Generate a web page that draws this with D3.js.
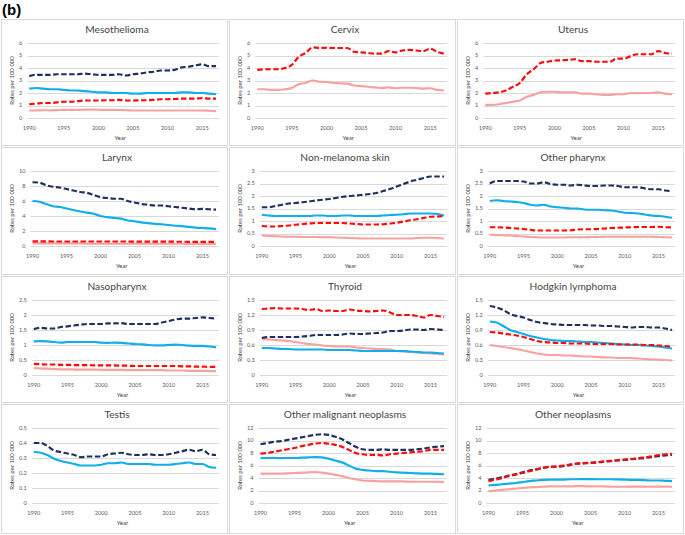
<!DOCTYPE html>
<html>
<head>
<meta charset="utf-8">
<script src="https://cdn.jsdelivr.net/npm/d3@7/dist/d3.min.js"></script>
<style>
  body { margin: 0; background: #fff; }
  text { font-family: Lato, "Open Sans", sans-serif; }
</style>
</head>
<body>
<svg id="chart" width="685" height="535"></svg>
<script>
// x categories
const years = [1990, 1991, 1992, 1993, 1994, 1995, 1996, 1997, 1998, 1999,
  2000, 2001, 2002, 2003, 2004, 2005, 2006, 2007, 2008, 2009,
  2010, 2011, 2012, 2013, 2014, 2015, 2016, 2017];
const yearTicks = [1990, 1995, 2000, 2005, 2010, 2015];

// Mesothelioma
const mesoNavy = [3.35, 3.45, 3.45, 3.45, 3.5, 3.5, 3.5, 3.5, 3.55, 3.5, 3.45, 3.45, 3.45, 3.5, 3.4, 3.5, 3.55, 3.65, 3.7, 3.8, 3.8, 3.85, 4.05, 4.1, 4.2, 4.3, 4.15, 4.15];
const mesoRed = [1.1, 1.15, 1.2, 1.2, 1.25, 1.3, 1.3, 1.35, 1.4, 1.4, 1.4, 1.42, 1.42, 1.45, 1.4, 1.4, 1.42, 1.42, 1.45, 1.5, 1.5, 1.52, 1.55, 1.55, 1.55, 1.6, 1.55, 1.55];
const mesoBlue = [2.35, 2.4, 2.35, 2.3, 2.3, 2.25, 2.2, 2.2, 2.15, 2.1, 2.05, 2.05, 2.0, 2.0, 2.0, 1.95, 1.95, 2.0, 2.0, 2.0, 2.0, 2.0, 2.05, 2.05, 2.0, 2.0, 1.95, 1.9];
const mesoPink = [0.6, 0.6, 0.62, 0.62, 0.63, 0.65, 0.65, 0.65, 0.67, 0.67, 0.66, 0.65, 0.65, 0.64, 0.62, 0.6, 0.6, 0.6, 0.6, 0.6, 0.6, 0.6, 0.6, 0.6, 0.6, 0.6, 0.58, 0.55];
const mesoTicks = [0, 1, 2, 3, 4, 5, 6];

// Cervix
const cervixRed = [3.85, 3.9, 3.9, 3.9, 4.0, 4.25, 4.9, 5.2, 5.65, 5.6, 5.62, 5.6, 5.6, 5.6, 5.3, 5.25, 5.2, 5.15, 5.15, 5.35, 5.25, 5.4, 5.45, 5.4, 5.35, 5.55, 5.3, 5.15];
const cervixPink = [2.3, 2.3, 2.25, 2.25, 2.3, 2.4, 2.7, 2.8, 3.0, 2.9, 2.88, 2.8, 2.78, 2.75, 2.6, 2.55, 2.5, 2.45, 2.4, 2.45, 2.38, 2.42, 2.42, 2.4, 2.35, 2.38, 2.25, 2.2];
const cervixTicks = [0, 1, 2, 3, 4, 5, 6];

// Uterus
const uterusRed = [1.95, 2.0, 2.05, 2.2, 2.5, 2.8, 3.5, 3.9, 4.4, 4.5, 4.6, 4.62, 4.65, 4.7, 4.55, 4.55, 4.5, 4.5, 4.5, 4.75, 4.75, 4.95, 5.1, 5.1, 5.1, 5.35, 5.2, 5.15];
const uterusPink = [1.05, 1.05, 1.1, 1.2, 1.3, 1.4, 1.7, 1.85, 2.05, 2.1, 2.1, 2.05, 2.05, 2.05, 1.95, 1.95, 1.9, 1.85, 1.85, 1.9, 1.9, 2.0, 2.0, 2.0, 2.0, 2.05, 1.95, 1.9];
const uterusTicks = [0, 1, 2, 3, 4, 5, 6];

// Larynx
const larynxNavy = [8.5, 8.45, 8.1, 7.9, 7.8, 7.6, 7.4, 7.2, 7.1, 6.8, 6.5, 6.4, 6.3, 6.3, 6.0, 5.8, 5.6, 5.5, 5.4, 5.4, 5.3, 5.2, 5.1, 5.0, 4.9, 4.95, 4.9, 4.85];
const larynxRed = [0.62, 0.62, 0.62, 0.6, 0.6, 0.6, 0.6, 0.6, 0.6, 0.6, 0.6, 0.6, 0.6, 0.6, 0.6, 0.58, 0.58, 0.58, 0.58, 0.58, 0.58, 0.57, 0.57, 0.56, 0.56, 0.55, 0.55, 0.55];
const larynxBlue = [6.0, 5.9, 5.6, 5.3, 5.2, 5.0, 4.8, 4.6, 4.45, 4.3, 4.0, 3.85, 3.75, 3.65, 3.4, 3.3, 3.15, 3.05, 2.95, 2.9, 2.8, 2.7, 2.65, 2.55, 2.45, 2.4, 2.35, 2.25];
const larynxPink = [0.36, 0.36, 0.35, 0.35, 0.35, 0.34, 0.34, 0.34, 0.33, 0.33, 0.33, 0.33, 0.32, 0.32, 0.32, 0.31, 0.31, 0.31, 0.3, 0.3, 0.3, 0.3, 0.3, 0.29, 0.29, 0.29, 0.28, 0.28];
const larynxTicks = [0, 2, 4, 6, 8, 10];

// Non-melanoma skin
const skinNavy = [1.55, 1.55, 1.6, 1.65, 1.7, 1.72, 1.75, 1.78, 1.82, 1.85, 1.88, 1.92, 1.97, 2.0, 2.02, 2.05, 2.08, 2.12, 2.2, 2.28, 2.38, 2.48, 2.58, 2.65, 2.72, 2.78, 2.78, 2.78];
const skinRed = [0.8, 0.78, 0.78, 0.8, 0.82, 0.85, 0.88, 0.9, 0.92, 0.92, 0.92, 0.92, 0.92, 0.9, 0.88, 0.86, 0.86, 0.86, 0.87, 0.9, 0.93, 0.98, 1.03, 1.07, 1.12, 1.17, 1.18, 1.2];
const skinBlue = [1.25, 1.22, 1.2, 1.2, 1.2, 1.2, 1.2, 1.2, 1.22, 1.22, 1.2, 1.2, 1.22, 1.22, 1.2, 1.2, 1.2, 1.2, 1.22, 1.24, 1.25, 1.27, 1.3, 1.3, 1.3, 1.3, 1.28, 1.22];
const skinPink = [0.42, 0.4, 0.39, 0.38, 0.37, 0.37, 0.36, 0.36, 0.36, 0.35, 0.35, 0.34, 0.33, 0.32, 0.31, 0.3, 0.3, 0.3, 0.3, 0.3, 0.3, 0.3, 0.3, 0.32, 0.33, 0.33, 0.32, 0.3];
const skinTicks = [0, 0.5, 1, 1.5, 2, 2.5, 3];

// Other pharynx
const pharynxNavy = [2.5, 2.6, 2.6, 2.6, 2.6, 2.58, 2.5, 2.5, 2.55, 2.48, 2.45, 2.45, 2.42, 2.45, 2.42, 2.4, 2.4, 2.42, 2.42, 2.4, 2.35, 2.35, 2.35, 2.3, 2.27, 2.27, 2.22, 2.2];
const pharynxRed = [0.75, 0.75, 0.74, 0.72, 0.7, 0.68, 0.65, 0.62, 0.62, 0.62, 0.62, 0.62, 0.63, 0.66, 0.67, 0.67, 0.68, 0.7, 0.72, 0.73, 0.74, 0.75, 0.76, 0.76, 0.76, 0.77, 0.75, 0.74];
const pharynxBlue = [1.8, 1.83, 1.8, 1.78, 1.76, 1.72, 1.65, 1.62, 1.65, 1.58, 1.55, 1.53, 1.5, 1.5, 1.46, 1.45, 1.45, 1.43, 1.42, 1.38, 1.33, 1.32, 1.3, 1.26, 1.22, 1.2, 1.17, 1.13];
const pharynxPink = [0.45, 0.44, 0.43, 0.42, 0.4, 0.38, 0.36, 0.35, 0.34, 0.34, 0.34, 0.34, 0.35, 0.35, 0.35, 0.36, 0.36, 0.37, 0.37, 0.37, 0.37, 0.37, 0.37, 0.37, 0.37, 0.36, 0.35, 0.34];
const pharynxTicks = [0, 0.5, 1, 1.5, 2, 2.5, 3];

// Nasopharynx
const nasoNavy = [1.53, 1.57, 1.55, 1.55, 1.6, 1.62, 1.65, 1.68, 1.7, 1.7, 1.7, 1.72, 1.72, 1.73, 1.7, 1.7, 1.7, 1.7, 1.7, 1.75, 1.8, 1.85, 1.88, 1.88, 1.9, 1.92, 1.9, 1.88];
const nasoRed = [0.37, 0.36, 0.35, 0.35, 0.34, 0.34, 0.33, 0.33, 0.33, 0.32, 0.32, 0.32, 0.32, 0.31, 0.31, 0.3, 0.3, 0.3, 0.3, 0.3, 0.3, 0.3, 0.29, 0.29, 0.28, 0.28, 0.27, 0.27];
const nasoBlue = [1.12, 1.13, 1.12, 1.1, 1.08, 1.1, 1.1, 1.1, 1.1, 1.1, 1.08, 1.07, 1.08, 1.07, 1.05, 1.03, 1.02, 1.0, 0.99, 0.99, 1.0, 1.01, 1.0, 0.98, 0.97, 0.97, 0.95, 0.92];
const nasoPink = [0.23, 0.22, 0.21, 0.2, 0.19, 0.19, 0.18, 0.18, 0.18, 0.18, 0.17, 0.17, 0.17, 0.17, 0.16, 0.16, 0.16, 0.16, 0.16, 0.16, 0.15, 0.15, 0.15, 0.14, 0.14, 0.14, 0.13, 0.13];
const nasoTicks = [0, 0.5, 1, 1.5, 2, 2.5];

// Thyroid
const thyroidNavy = [0.74, 0.76, 0.76, 0.76, 0.76, 0.76, 0.77, 0.78, 0.8, 0.8, 0.8, 0.8, 0.81, 0.83, 0.82, 0.82, 0.83, 0.84, 0.85, 0.88, 0.88, 0.89, 0.91, 0.91, 0.9, 0.92, 0.91, 0.9];
const thyroidRed = [1.32, 1.33, 1.34, 1.33, 1.33, 1.33, 1.32, 1.3, 1.32, 1.28, 1.29, 1.28, 1.28, 1.31, 1.29, 1.28, 1.27, 1.28, 1.29, 1.25, 1.2, 1.2, 1.2, 1.18, 1.15, 1.2, 1.18, 1.16];
const thyroidBlue = [0.54, 0.54, 0.53, 0.52, 0.52, 0.51, 0.51, 0.51, 0.51, 0.51, 0.5, 0.5, 0.5, 0.5, 0.49, 0.48, 0.48, 0.48, 0.48, 0.48, 0.48, 0.48, 0.47, 0.46, 0.45, 0.45, 0.44, 0.43];
const thyroidPink = [0.72, 0.71, 0.7, 0.69, 0.68, 0.66, 0.64, 0.62, 0.61, 0.59, 0.58, 0.57, 0.57, 0.57, 0.55, 0.54, 0.53, 0.52, 0.52, 0.51, 0.48, 0.47, 0.46, 0.45, 0.44, 0.43, 0.42, 0.41];
const thyroidTicks = [0, 0.3, 0.6, 0.9, 1.2, 1.5];

// Hodgkin lymphoma
const hodgkinNavy = [1.38, 1.35, 1.3, 1.22, 1.18, 1.15, 1.1, 1.06, 1.04, 1.02, 1.01, 1.0, 1.0, 1.0, 1.0, 0.99, 0.99, 0.98, 0.98, 0.97, 0.96, 0.95, 0.96, 0.96, 0.95, 0.95, 0.93, 0.9];
const hodgkinRed = [0.86, 0.85, 0.83, 0.81, 0.79, 0.76, 0.72, 0.68, 0.66, 0.65, 0.64, 0.64, 0.63, 0.63, 0.63, 0.62, 0.62, 0.62, 0.62, 0.61, 0.61, 0.61, 0.61, 0.6, 0.6, 0.59, 0.58, 0.56];
const hodgkinBlue = [1.07, 1.05, 0.98, 0.9, 0.86, 0.82, 0.78, 0.75, 0.72, 0.7, 0.69, 0.68, 0.68, 0.67, 0.66, 0.66, 0.65, 0.64, 0.63, 0.62, 0.61, 0.6, 0.6, 0.59, 0.58, 0.57, 0.55, 0.53];
const hodgkinPink = [0.6, 0.58, 0.56, 0.54, 0.52, 0.49, 0.46, 0.43, 0.41, 0.4, 0.4, 0.39, 0.39, 0.38, 0.37, 0.37, 0.36, 0.35, 0.35, 0.34, 0.34, 0.34, 0.33, 0.32, 0.31, 0.31, 0.3, 0.29];
const hodgkinTicks = [0, 0.3, 0.6, 0.9, 1.2, 1.5];

// Testis
const testisNavy = [0.4, 0.4, 0.38, 0.35, 0.34, 0.33, 0.32, 0.305, 0.31, 0.31, 0.31, 0.325, 0.33, 0.335, 0.325, 0.32, 0.32, 0.325, 0.32, 0.32, 0.325, 0.335, 0.345, 0.355, 0.345, 0.355, 0.325, 0.32];
const testisBlue = [0.34, 0.335, 0.32, 0.295, 0.28, 0.27, 0.26, 0.25, 0.25, 0.25, 0.255, 0.265, 0.265, 0.27, 0.26, 0.26, 0.26, 0.26, 0.255, 0.255, 0.255, 0.26, 0.265, 0.27, 0.26, 0.26, 0.24, 0.235];
const testisTicks = [0, 0.1, 0.2, 0.3, 0.4, 0.5];

// Other malignant neoplasms
const omnNavy = [9.4, 9.6, 9.8, 9.9, 10.1, 10.3, 10.5, 10.7, 10.9, 11.0, 10.9, 10.6, 10.2, 9.6, 9.0, 8.6, 8.5, 8.5, 8.6, 8.5, 8.5, 8.5, 8.5, 8.6, 8.7, 8.9, 9.0, 9.1];
const omnRed = [7.9, 8.0, 8.2, 8.4, 8.6, 8.8, 9.1, 9.3, 9.5, 9.6, 9.5, 9.3, 9.0, 8.5, 8.0, 7.8, 7.7, 7.7, 7.6, 7.8, 7.9, 8.0, 8.1, 8.2, 8.3, 8.5, 8.5, 8.5];
const omnBlue = [7.2, 7.2, 7.2, 7.2, 7.2, 7.2, 7.25, 7.3, 7.35, 7.3, 7.1, 6.8, 6.5, 6.0, 5.5, 5.3, 5.2, 5.1, 5.1, 5.0, 4.9, 4.85, 4.8, 4.75, 4.7, 4.7, 4.65, 4.6];
const omnPink = [4.7, 4.7, 4.7, 4.7, 4.75, 4.8, 4.85, 4.9, 4.95, 4.85, 4.7, 4.5, 4.3, 4.0, 3.8, 3.6, 3.55, 3.5, 3.45, 3.45, 3.45, 3.45, 3.4, 3.4, 3.4, 3.4, 3.4, 3.35];
const omnTicks = [0, 2, 4, 6, 8, 10, 12];

// Other neoplasms
const onNavy = [3.7, 3.9, 4.1, 4.4, 4.6, 4.9, 5.2, 5.4, 5.6, 5.8, 5.8, 5.9, 6.1, 6.3, 6.35, 6.4, 6.5, 6.6, 6.7, 6.8, 6.9, 7.0, 7.1, 7.2, 7.35, 7.5, 7.6, 7.7];
const onRed = [3.5, 3.75, 4.0, 4.3, 4.55, 4.8, 5.1, 5.35, 5.6, 5.8, 5.85, 6.0, 6.15, 6.3, 6.4, 6.45, 6.55, 6.65, 6.75, 6.85, 6.95, 7.05, 7.15, 7.3, 7.45, 7.65, 7.8, 7.85];
const onBlue = [2.8, 2.9, 3.0, 3.1, 3.2, 3.35, 3.5, 3.6, 3.7, 3.75, 3.75, 3.75, 3.8, 3.8, 3.82, 3.82, 3.8, 3.8, 3.8, 3.78, 3.75, 3.7, 3.7, 3.65, 3.6, 3.6, 3.55, 3.5];
const onPink = [1.9, 2.0, 2.1, 2.2, 2.3, 2.4, 2.5, 2.55, 2.6, 2.65, 2.65, 2.65, 2.65, 2.7, 2.7, 2.65, 2.65, 2.65, 2.6, 2.6, 2.6, 2.62, 2.62, 2.62, 2.6, 2.62, 2.62, 2.6];
const onTicks = [0, 2, 4, 6, 8, 10, 12];

const panels = [
  { title: 'Mesothelioma', ticks: mesoTicks, navy: mesoNavy, red: mesoRed, blue: mesoBlue, pink: mesoPink },
  { title: 'Cervix', ticks: cervixTicks, red: cervixRed, pink: cervixPink },
  { title: 'Uterus', ticks: uterusTicks, red: uterusRed, pink: uterusPink },
  { title: 'Larynx', ticks: larynxTicks, navy: larynxNavy, red: larynxRed, blue: larynxBlue, pink: larynxPink },
  { title: 'Non-melanoma skin', ticks: skinTicks, navy: skinNavy, red: skinRed, blue: skinBlue, pink: skinPink },
  { title: 'Other pharynx', ticks: pharynxTicks, navy: pharynxNavy, red: pharynxRed, blue: pharynxBlue, pink: pharynxPink },
  { title: 'Nasopharynx', ticks: nasoTicks, navy: nasoNavy, red: nasoRed, blue: nasoBlue, pink: nasoPink },
  { title: 'Thyroid', ticks: thyroidTicks, navy: thyroidNavy, red: thyroidRed, blue: thyroidBlue, pink: thyroidPink },
  { title: 'Hodgkin lymphoma', ticks: hodgkinTicks, navy: hodgkinNavy, red: hodgkinRed, blue: hodgkinBlue, pink: hodgkinPink },
  { title: 'Testis', ticks: testisTicks, navy: testisNavy, blue: testisBlue },
  { title: 'Other malignant neoplasms', ticks: omnTicks, navy: omnNavy, red: omnRed, blue: omnBlue, pink: omnPink },
  { title: 'Other neoplasms', ticks: onTicks, navy: onNavy, red: onRed, blue: onBlue, pink: onPink }
];

// drawing order: solid lines below, dashed on top
const seriesStyle = [
  { key: 'pink', color: '#f7a1a1', dash: null },
  { key: 'blue', color: '#10aeea', dash: null },
  { key: 'navy', color: '#1f2f5e', dash: '5.5,2.5' },
  { key: 'red', color: '#ff0a0a', dash: '5.5,2.5' }
];

const svg = d3.select('#chart');
svg.append('rect').attr('width', 685).attr('height', 535).attr('fill', '#fff');

svg.append('text')
  .attr('x', 2).attr('y', 15)
  .style('font-family', '"Liberation Sans", Arial, sans-serif')
  .style('font-weight', 'bold')
  .style('font-size', '15px')
  .attr('fill', '#000')
  .text('(b)');

const colLeft = [1, 229, 457];
const colWidth = 226;
const rowTop = [19, 147, 276, 404];
const rowHeight = [126, 127, 126, 129];
const tickFont = 5.6;

panels.forEach((p, i) => {
  const c = i % 3, r = Math.floor(i / 3);
  const g = svg.append('g').attr('transform', `translate(${colLeft[c]},${rowTop[r]})`);

  g.append('rect')
    .attr('x', 0.5).attr('y', 0.5)
    .attr('width', colWidth).attr('height', rowHeight[r])
    .attr('fill', '#fff').attr('stroke', '#d9d9d9');

  // measure widest tick label to place the plot area
  const probe = g.append('text').style('font-size', tickFont + 'px');
  const labelW = d3.max(p.ticks, t => probe.text(String(t)).node().getComputedTextLength());
  probe.remove();

  const left = 23 + labelW;
  const right = colWidth - 8;
  const top = 24, bottom = 99;

  const x = d3.scaleLinear().domain([1990, 2017]).range([left + 2, right - 3]);
  const y = d3.scaleLinear().domain([0, d3.max(p.ticks)]).range([bottom, top]);

  // gridlines
  g.selectAll('.grid').data(p.ticks).enter().append('line')
    .attr('x1', left).attr('x2', right)
    .attr('y1', d => Math.round(y(d)) + 0.5).attr('y2', d => Math.round(y(d)) + 0.5)
    .attr('stroke', '#d9d9d9').attr('stroke-width', 1);

  // y tick labels
  g.selectAll('.ytick').data(p.ticks).enter().append('text')
    .attr('x', left - 5).attr('y', d => y(d)).attr('dy', '0.35em')
    .attr('text-anchor', 'end')
    .style('font-size', tickFont + 'px').attr('fill', '#595959')
    .text(d => d);

  // x tick labels
  g.selectAll('.xtick').data(yearTicks).enter().append('text')
    .attr('x', d => x(d)).attr('y', 110.5)
    .attr('text-anchor', 'middle')
    .style('font-size', tickFont + 'px').attr('fill', '#595959')
    .text(d => d);

  // titles
  g.append('text')
    .attr('x', colWidth / 2 + 3).attr('y', 14)
    .attr('text-anchor', 'middle')
    .style('font-size', '10.2px').attr('fill', '#454545')
    .text(p.title);

  g.append('text')
    .attr('x', (left + right) / 2 - 3).attr('y', 121)
    .attr('text-anchor', 'middle')
    .style('font-size', '6px').attr('fill', '#404040')
    .text('Year');

  g.append('text')
    .attr('transform', `translate(13,${(top + bottom) / 2}) rotate(-90)`)
    .attr('text-anchor', 'middle')
    .style('font-size', '6px').attr('fill', '#404040')
    .text('Rates per 100 000');

  const line = d3.line()
    .x((d, k) => x(years[k]))
    .y(d => y(d))
    .curve(d3.curveMonotoneX);

  seriesStyle.forEach(s => {
    if (!p[s.key]) return;
    g.append('path')
      .datum(p[s.key])
      .attr('d', line)
      .attr('fill', 'none')
      .attr('stroke', s.color)
      .attr('stroke-width', 2.2)
      .attr('stroke-dasharray', s.dash)
      .attr('stroke-linejoin', 'round');
  });
});
</script>
</body>
</html>
